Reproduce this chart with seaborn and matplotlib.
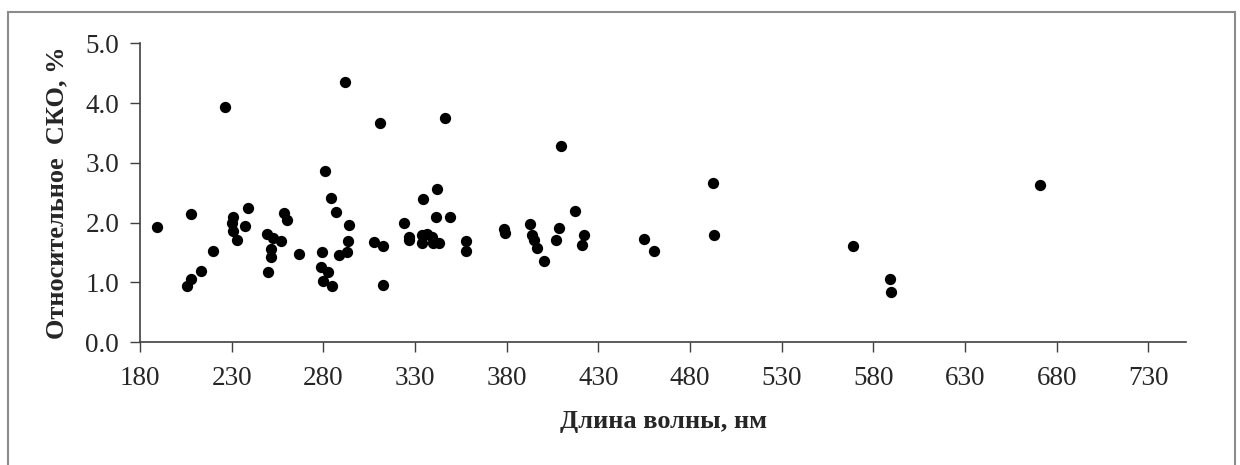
import matplotlib
matplotlib.use("Agg")
import matplotlib.pyplot as plt
import seaborn as sns
import pandas as pd
from matplotlib.patches import Rectangle

# -------- DATA --------
wavelength = [189, 208, 205.5, 207.6, 213.3, 219.7, 226.2, 230.6, 230.0, 230.7,
              232.7, 237.5, 239.1, 249.1, 252.7, 256.9, 251.3, 251.3, 249.8, 258.8,
              260.4, 266.9, 281.1, 284.0, 286.9, 294.0, 293.3, 292.7, 288.4, 279.1,
              278.8, 282.8, 279.7, 284.8, 291.9, 310.7, 307.8, 312.8, 312.8, 324.0,
              326.9, 326.9, 334.6, 334.0, 334.0, 336.4, 339.1, 340.0, 343.3, 341.3,
              342.0, 346.4, 349.0, 357.7, 357.7, 378.6, 379.0, 392.8, 394.0, 395.1,
              396.4, 400.4, 407.0, 408.4, 409.7, 417.2, 422.1, 421.3, 455.0, 460.1,
              492.3, 493.0, 568.9, 588.9, 589.6, 671.1]
rsd = [1.93, 2.14, 0.93, 1.05, 1.19, 1.52, 3.94, 2.09, 2.00, 1.86,
       1.71, 1.95, 2.25, 1.81, 1.75, 1.69, 1.55, 1.43, 1.17, 2.16,
       2.05, 1.47, 2.86, 2.41, 2.17, 1.96, 1.69, 1.50, 1.45, 1.50,
       1.25, 1.17, 1.03, 0.93, 4.35, 3.66, 1.67, 0.95, 1.61, 2.00,
       1.76, 1.71, 2.39, 1.79, 1.65, 1.81, 1.76, 1.66, 1.66, 2.10,
       2.56, 3.75, 2.10, 1.70, 1.52, 1.89, 1.83, 1.98, 1.79, 1.71,
       1.57, 1.36, 1.71, 1.91, 3.29, 2.19, 1.79, 1.62, 1.72, 1.52,
       2.67, 1.79, 1.60, 1.05, 0.83, 2.63]
x_ticks = [180, 230, 280, 330, 380, 430, 480, 530, 580, 630, 680, 730]
y_ticks = [0.0, 1.0, 2.0, 3.0, 4.0, 5.0]

df = pd.DataFrame({"wl": wavelength, "rsd": rsd})

# -------- PLOT --------
sns.set_style("white")
plt.rcParams['font.family'] = ['Liberation Serif', 'DejaVu Serif']

fig = plt.figure(figsize=(12.4, 4.65), dpi=100)
ax = fig.add_axes([140 / 1240, 1 - 342 / 465, (1186 - 140) / 1240, (342 - 43.5) / 465])

sns.scatterplot(data=df, x="wl", y="rsd", ax=ax, color="black", s=66,
                edgecolor="black", linewidth=0, clip_on=False)

ax.set_xlim(180, 750.5)
ax.set_ylim(0, 5.0)
ax.set_xticks(x_ticks)
ax.set_yticks(y_ticks)
ax.set_yticklabels([f"{v:.1f}" for v in y_ticks])
ax.tick_params(axis="both", direction="out", length=7, width=1, color="#404040",
               labelsize=19.5, left=True, bottom=True)
ax.tick_params(axis="y", pad=8)
ax.tick_params(axis="x", pad=10)

for side in ["top", "right"]:
    ax.spines[side].set_visible(False)
for side in ["left", "bottom"]:
    ax.spines[side].set_color("#404040")
    ax.spines[side].set_linewidth(1.2)

ax.set_xlabel("Длина волны, нм", fontsize=19, fontweight="bold", labelpad=14)
ax.set_ylabel("Относительное  СКО, %", fontsize=19, fontweight="bold", labelpad=12)

# outer frame
fig.patches.append(Rectangle((8 / 1240, -0.02), (1235 - 8) / 1240, 1.02 - 12 / 465,
                             transform=fig.transFigure, fill=False,
                             edgecolor="#8c8c8c", linewidth=1.5))

fig.savefig("out.png", dpi=100)
